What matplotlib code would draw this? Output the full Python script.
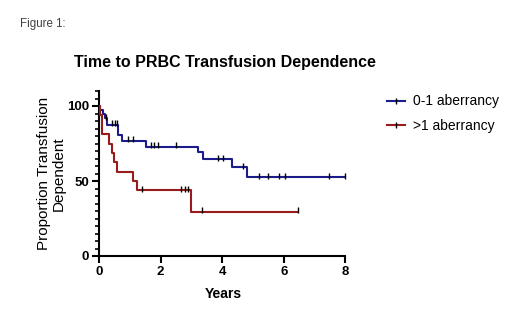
import matplotlib
matplotlib.use("Agg")
import matplotlib.pyplot as plt
from matplotlib.lines import Line2D
from matplotlib.ticker import MultipleLocator
import numpy as np

# ---- data ----
blue_label = "0-1 aberrancy"
blue_step_t = [0.0, 0.03, 0.12, 0.19, 0.25, 0.62, 0.74, 1.54, 3.21, 3.37, 4.31, 4.79, 8.0]
blue_step_s = [100, 97.5, 94.7, 91.8, 87.3, 81.0, 76.5, 72.9, 69.6, 64.4, 59.1, 52.4, 52.4]
blue_cens_t = [0.22, 0.41, 0.52, 0.59, 0.95, 1.11, 1.68, 1.78, 1.92, 2.49, 3.87, 4.02,
               4.66, 5.20, 5.50, 5.85, 6.04, 7.48, 8.0]

red_label = ">1 aberrancy"
red_step_t = [0.0, 0.03, 0.09, 0.33, 0.41, 0.48, 0.57, 1.09, 1.24, 2.99, 6.47]
red_step_s = [100, 93.75, 81.25, 75.0, 68.75, 62.5, 56.25, 50.0, 43.75, 29.17, 29.17]
red_cens_t = [1.38, 2.67, 2.78, 2.88, 3.35, 6.47]

title = "Time to PRBC Transfusion Dependence"
xlabel = "Years"
ylabel = "Proportion Transfusion\nDependent"
xticks = [0, 2, 4, 6, 8]
yticks = [0, 50, 100]

blue = "#1c1c8a"
red = "#981c1c"

plt.rcParams['font.family'] = ['Liberation Sans', 'DejaVu Sans']

fig = plt.figure(figsize=(5.20, 3.32), dpi=100)
ax = fig.add_axes([99/520, 1-256/332, 248/520, 165/332])


def surv_at(ts, ss, t):
    idx = np.searchsorted(ts, t, side='right') - 1
    return ss[max(idx, 0)]


for st, ss, ct, col in [(blue_step_t, blue_step_s, blue_cens_t, blue),
                        (red_step_t, red_step_s, red_cens_t, red)]:
    ax.step(st, ss, where='post', color=col, lw=1.5, solid_capstyle='butt', zorder=3)
    cy = [surv_at(st, ss, t) + 1.2 for t in ct]
    ax.plot(ct, cy, ls='none', marker='|', color='black', ms=4, mew=1.0, zorder=4)

ax.set_xlim(0, 8.05)
ax.set_ylim(0, 110)
for s in ['top', 'right']:
    ax.spines[s].set_visible(False)
for s in ['left', 'bottom']:
    ax.spines[s].set_linewidth(1.5)
ax.spines['bottom'].set_bounds(0, 8)
ax.set_xticks(xticks)
ax.set_yticks(yticks)
ax.yaxis.set_minor_locator(MultipleLocator(5))
ax.tick_params(axis='both', which='major', length=5, width=1.5, labelsize=9.5, pad=2)
ax.tick_params(axis='y', which='minor', length=3, width=1.2)
for lab in ax.get_xticklabels() + ax.get_yticklabels():
    lab.set_fontweight('bold')

ax.set_xlabel(xlabel, fontsize=10, fontweight='bold', labelpad=7)
ax.set_ylabel(ylabel, fontsize=11, labelpad=1, linespacing=1.05)

fig.text(225/520, 1-63/332, title, fontsize=11.5, fontweight='bold', ha='center', va='center')
fig.text(20/520, 1-24/332, "Figure 1:", fontsize=8.3, color='#404040', ha='left', va='center')

handles = [Line2D([0], [0], color=blue, lw=1.5, marker='|', mec='black', ms=4),
           Line2D([0], [0], color=red, lw=1.5, marker='|', mec='black', ms=4)]
fig.legend(handles, [blue_label, red_label], loc='upper left',
           bbox_to_anchor=(374/520, 1-82/332), frameon=False, fontsize=10,
           handlelength=1.3, handletextpad=0.6, labelspacing=0.75)

fig.savefig("out.png", dpi=100)
